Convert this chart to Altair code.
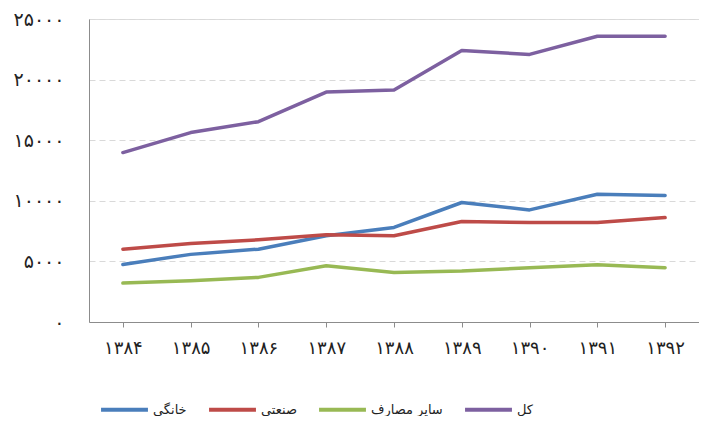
import altair as alt
import pandas as pd

years = ["۱۳۸۴", "۱۳۸۵", "۱۳۸۶", "۱۳۸۷", "۱۳۸۸", "۱۳۸۹", "۱۳۹۰", "۱۳۹۱", "۱۳۹۲"]
series_names = ["خانگی", "صنعتی", "سایر مصارف", "کل"]
household = [4750, 5580, 6010, 7110, 7800, 9860, 9250, 10540, 10430]
industrial = [6010, 6480, 6780, 7190, 7110, 8290, 8210, 8210, 8620]
other = [3210, 3400, 3680, 4640, 4090, 4200, 4480, 4720, 4480]
total = [13980, 15630, 16530, 18970, 19140, 22400, 22080, 23580, 23580]
colors = ["#4A7EBB", "#BE4B48", "#98B954", "#7D60A0"]
y_ticks = [0, 5000, 10000, 15000, 20000, 25000]
y_tick_labels = ["۰", "۵۰۰۰", "۱۰۰۰۰", "۱۵۰۰۰", "۲۰۰۰۰", "۲۵۰۰۰"]

rows = []
for name, vals in zip(series_names, [household, industrial, other, total]):
    for yr, v in zip(years, vals):
        rows.append({"year": yr, "series": name, "value": v})
df = pd.DataFrame(rows)

label_map = "{" + ",".join(f"'{t}':'{l}'" for t, l in zip(y_ticks, y_tick_labels)) + "}"
FONT = "DejaVu Sans"

chart = (
    alt.Chart(df)
    .mark_line(strokeWidth=3.5, strokeCap="round", strokeJoin="round")
    .encode(
        x=alt.X(
            "year:N",
            sort=years,
            scale=alt.Scale(type="point", padding=0.5),
            axis=alt.Axis(
                title=None,
                labelAngle=0,
                labelFont=FONT,
                labelFontSize=18,
                labelColor="#222222",
                labelPadding=12,
                tickSize=5,
                tickColor="#8c8c8c",
                domainColor="#8c8c8c",
                grid=False,
            ),
        ),
        y=alt.Y(
            "value:Q",
            scale=alt.Scale(domain=[0, 25000], nice=False),
            axis=alt.Axis(
                title=None,
                values=y_ticks,
                labelExpr=f"{label_map}[datum.value]",
                labelFont=FONT,
                labelFontSize=19,
                labelColor="#222222",
                labelPadding=25,
                ticks=False,
                domainColor="#8c8c8c",
                grid=True,
                gridColor="#d9d9d9",
                gridDash=[6, 4],
            ),
        ),
        color=alt.Color(
            "series:N",
            sort=series_names,
            scale=alt.Scale(domain=series_names, range=colors),
            legend=alt.Legend(
                title=None,
                orient="none",
                direction="horizontal",
                legendX=10,
                legendY=365,
                symbolType="stroke",
                symbolSize=2200,
                symbolStrokeWidth=4,
                labelFont=FONT,
                labelFontSize=13,
                labelColor="#222222",
                labelOffset=3,
                columnPadding=14,
                padding=0,
            ),
        ),
    )
    .properties(
        width=610,
        height=303,
        autosize=alt.AutoSizeParams(type="none"),
        padding={"left": 81, "top": 11, "right": 0, "bottom": 94},
    )
    .configure_view(stroke=None)
    .configure(background="white")
)

chart.save("out.html", embed_options={"renderer": "svg", "actions": False})
